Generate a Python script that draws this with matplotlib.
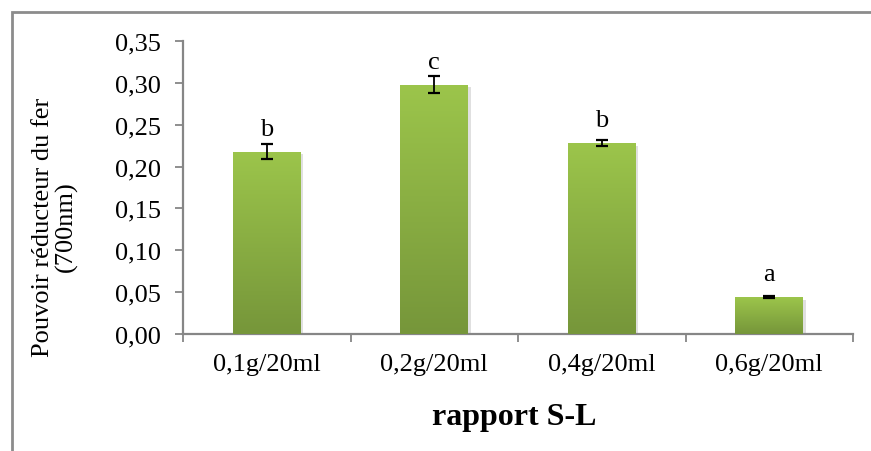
import matplotlib
matplotlib.use('Agg')
import matplotlib.pyplot as plt
import matplotlib.patheffects as pe
from matplotlib.patches import Rectangle
import numpy as np

categories = ['0,1g/20ml', '0,2g/20ml', '0,4g/20ml', '0,6g/20ml']
values = [0.218, 0.298, 0.228, 0.044]
errors = [0.009, 0.010, 0.004, 0.0008]
letters = ['b', 'c', 'b', 'a']
yticks = [0.00, 0.05, 0.10, 0.15, 0.20, 0.25, 0.30, 0.35]

plt.rcParams['font.family'] = ['Liberation Serif', 'DejaVu Serif']
grey = '#868686'
top_green = '#9cc54b'
bottom_green = '#76963a'

fig = plt.figure(figsize=(8.71, 4.52), dpi=100, facecolor='white')
ax = fig.add_axes([183 / 871, 1 - 335 / 452, (853 - 183) / 871, (335 - 42) / 452])

# outer chart frame (only top and left visible in the crop)
frame = Rectangle((12 / 871, -0.1), 1.2, 1.1 - 13 / 452, transform=fig.transFigure,
                  fill=False, edgecolor='#8c8c8c', lw=2.0, zorder=0)
fig.patches.append(frame)

x = np.arange(len(categories))
bars = ax.bar(x, values, width=0.405, color=top_green, zorder=2,
              path_effects=[pe.SimplePatchShadow(offset=(2, -2), shadow_rgbFace='#a8a8a8', alpha=0.35),
                            pe.Normal()])

grad = np.linspace(0, 1, 256).reshape(-1, 1)
cmap = matplotlib.colors.LinearSegmentedColormap.from_list('g', [bottom_green, top_green])
for b in bars:
    x0, w, h = b.get_x(), b.get_width(), b.get_height()
    im = ax.imshow(grad, cmap=cmap, extent=[x0, x0 + w, 0, h], origin='lower',
                   aspect='auto', zorder=3)
    im.set_clip_path(b)

ax.errorbar(x, values, yerr=errors, fmt='none', ecolor='black', elinewidth=1.3,
            capsize=4.3, capthick=1.6, zorder=4)

for xi, v, e, lab in zip(x, values, errors, letters):
    ax.annotate(lab, (xi, v), xytext=(0, 12 * 0.72), textcoords='offset points',
                ha='center', va='bottom', fontsize=19, zorder=5)

ax.set_xlim(-0.5, len(categories) - 0.5)
ax.set_ylim(0, 0.35)
ax.set_yticks(yticks)
ax.set_yticklabels([f'{t:.2f}'.replace('.', ',') for t in yticks], fontsize=19)
ax.set_xticks(np.arange(len(categories) + 1) - 0.5)
ax.set_xticklabels([])
ax.set_xticks(x, minor=True)
ax.set_xticklabels(categories, minor=True, fontsize=19)
ax.tick_params(axis='x', which='minor', length=0, pad=14)
ax.tick_params(axis='x', which='major', length=6, width=1.3, color=grey, direction='out')
ax.tick_params(axis='y', length=6, width=1.3, color=grey, direction='out', pad=10)

for s in ['top', 'right']:
    ax.spines[s].set_visible(False)
for s in ['left', 'bottom']:
    ax.spines[s].set_color(grey)
    ax.spines[s].set_linewidth(1.6)

fig.text(55 / 871, 1 - 227 / 452, 'Pouvoir réducteur du fer\n(700nm)', rotation=90,
         ha='center', va='center', multialignment='center', fontsize=19, linespacing=1.05)
fig.text(514 / 871, 1 - 417 / 452, 'rapport S-L', ha='center', va='center',
         fontsize=23, fontweight='bold')

fig.savefig('out.png', dpi=100, facecolor='white')
